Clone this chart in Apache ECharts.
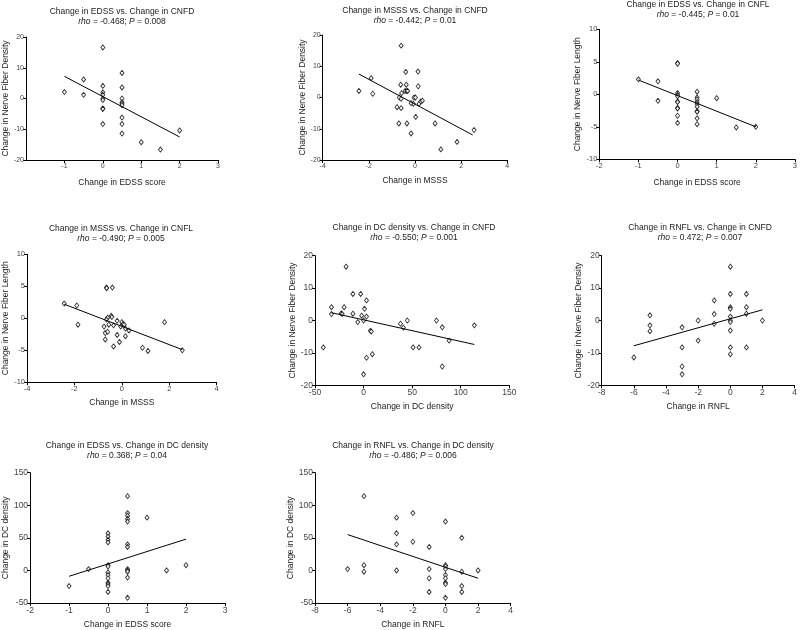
<!DOCTYPE html>
<html>
<head>
<meta charset="utf-8">
<script src="https://cdn.jsdelivr.net/npm/echarts@6/dist/echarts.min.js"></script>
<style>
html, body { margin: 0; padding: 0; background: #fff; }
#chart { width: 800px; height: 630px; }
</style>
</head>
<body>
<div id="chart"></div>
<script>
// values, one array per panel: [x, y]
var edssCnfd = [[-1,2.1],[-0.5,6.2],[-0.5,1.2],[0,16.6],[0,4.1],[0,2],[0,1.2],[0,0],[0,-0.5],[0,-3.2],[0,-3.4],[0,-8.3],[0.5,8.3],[0.5,3.6],[0.5,0],[0.5,-1.2],[0.5,-1.7],[0.5,-2.2],[0.5,-6.2],[0.5,-8.3],[0.5,-11.4],[1,-14.2],[1.5,-16.6],[2,-10.4]];
var edssCnfdFit = [[-1,7.2],[2,-12.5]];

var msssCnfd = [[-2.43,2.1],[-1.9,6.2],[-1.83,1.2],[-0.6,16.6],[-0.62,4.1],[-0.4,8.2],[-0.38,4.1],[-0.43,2.1],[-0.35,2.1],[-0.32,2.1],[-0.58,1.4],[-0.68,0],[-0.6,-0.4],[-0.78,-3.1],[-0.6,-3.4],[-0.7,-8.3],[-0.35,-8.3],[-0.17,-11.5],[-0.04,0],[0.02,0],[-0.07,-2],[-0.17,-1.8],[0.13,8.3],[0.14,3.6],[0.03,-6.2],[0.18,-2],[0.25,-1.3],[0.32,-1],[0.87,-8.3],[1.12,-16.6],[1.82,-14.2],[2.56,-10.4]];
var msssCnfdFit = [[-2.43,7.5],[2.5,-12]];

var edssCnfl = [[-1,2.3],[-0.5,2],[-0.5,-1],[0,4.8],[0,4.7],[0,0.2],[0,-0.1],[0,-0.3],[0,-1.1],[0,-1.2],[0,-2.1],[0,-2.2],[0,-3.3],[0,-4.4],[0.5,0.4],[0.5,-0.5],[0.5,-0.8],[0.5,-1.2],[0.5,-1.5],[0.5,-1.9],[0.5,-2.6],[0.5,-2.7],[0.5,-3.7],[0.5,-4.6],[1,-0.6],[1.5,-5.1],[2,-5]];
var edssCnflFit = [[-1,2.2],[2,-5]];

var msssCnfl = [[-2.43,2.3],[-1.9,2],[-1.85,-1],[-0.65,4.8],[-0.64,4.7],[-0.4,4.8],[-0.45,0.4],[-0.42,0.2],[-0.6,0.1],[-0.65,-0.2],[-0.75,-1.3],[-0.55,-1],[-0.7,-2.3],[-0.6,-2.1],[-0.7,-3.3],[-0.35,-4.4],[-0.2,-2.6],[-0.1,-3.7],[-0.2,-0.4],[-0.35,-1.1],[0,-0.6],[0.05,-0.9],[0.1,-1],[-0.05,-1.3],[0.15,-1.6],[0.15,-2.8],[0.3,-1.9],[0.87,-4.6],[1.1,-5.1],[1.8,-0.6],[2.55,-5]];
var msssCnflFit = [[-2.43,2.2],[2.55,-4.9]];

var dcCnfd = [[-41.5,-8.3],[-33,4.1],[-33,2],[-23,2.2],[-22,2],[-18,16.6],[-20,4.1],[-11,8.2],[-11,2.1],[-6,-0.5],[-3,8.2],[-2,1.5],[1,3.6],[3,6.2],[3,1.2],[0,0],[7,-3.2],[8,-3.4],[3,-11.5],[0,-16.6],[9,-10.4],[38,-1],[41,-2.2],[45,0],[51,-8.3],[57,-8.3],[75,0],[81,-2.1],[81,-14.2],[88,-6.2],[114,-1.5]];
var dcCnfdFit = [[-33,2.4],[114,-7.4]];

var rnflCnfd = [[-6,-11.4],[-5,1.6],[-5,-1.5],[-5,-3.3],[-3,-2.1],[-3,-8.3],[-3,-14.2],[-3,-16.6],[-2,0],[-2,-6.2],[-1,6.2],[-1,2],[-1,-1],[0,16.6],[0,8.2],[0,4.1],[0,3.6],[0,1.2],[0,0],[0,-0.5],[0,-3.1],[0,-8.3],[0,-10.4],[1,8.2],[1,4.1],[1,2.1],[1,-8.3],[2,0]];
var rnflCnfdFit = [[-6,-7.8],[2,3.3]];

var edssDc = [[-1,-24],[-0.5,2],[0,57],[0,52],[0,47],[0,43],[0,8],[0,6],[0,-3],[0,-7],[0,-12],[0,-19],[0,-21],[0,-24],[0,-33],[0.5,114],[0.5,88],[0.5,84],[0.5,79],[0.5,75],[0.5,40],[0.5,36],[0.5,2],[0.5,0],[0.5,-2],[0.5,-11],[0.5,-42],[1,81],[1.5,0],[2,8]];
var edssDcFit = [[-1,-9],[2,48]];

var rnflDc = [[-6,2],[-5,114],[-5,8],[-5,-2],[-3,81],[-3,57],[-3,40],[-3,0],[-2,88],[-2,44],[-1,36],[-1,2],[-1,-12],[-1,-33],[0,75],[0,8],[0,6],[0,2],[0,-7],[0,-12],[0,-19],[0,-21],[0,-42],[1,50],[1,-2],[1,-24],[1,-33],[2,0]];
var rnflDcFit = [[-6,55],[2,-12]];

var titles = [
    "Change in EDSS vs. Change in CNFD", "Change in MSSS vs. Change in CNFD", "Change in EDSS vs. Change in CNFL",
    "Change in MSSS vs. Change in CNFL", "Change in DC density vs. Change in CNFD", "Change in RNFL vs. Change in CNFD",
    "Change in EDSS vs. Change in DC density", "Change in RNFL vs. Change in DC density"
];
var stats = [
    ["-0.468", "0.008"], ["-0.442", "0.01"], ["-0.445", "0.01"], ["-0.490", "0.005"],
    ["-0.550", "0.001"], ["0.472", "0.007"], ["0.368", "0.04"], ["-0.486", "0.006"]
];
var xNames = ["Change in EDSS score", "Change in MSSS", "Change in EDSS score", "Change in MSSS",
    "Change in DC density", "Change in RNFL", "Change in EDSS score", "Change in RNFL"];
var yNames = ["Change in Nerve Fiber Density", "Change in Nerve Fiber Density", "Change in Nerve Fiber Length",
    "Change in Nerve Fiber Length", "Change in Nerve Fiber Density", "Change in Nerve Fiber Density",
    "Change in DC density", "Change in DC density"];
var xRanges = [[-2,3,1], [-4,4,2], [-2,3,1], [-4,4,2], [-50,150,50], [-8,4,2], [-2,3,1], [-8,4,2]];
var yRanges = [[-20,20,10], [-20,20,10], [-10,10,5], [-10,10,5], [-20,20,10], [-20,20,10], [-50,150,50], [-50,150,50]];
var points = [edssCnfd, msssCnfd, edssCnfl, msssCnfl, dcCnfd, rnflCnfd, edssDc, rnflDc];
var fits = [edssCnfdFit, msssCnfdFit, edssCnflFit, msssCnflFit, dcCnfdFit, rnflCnfdFit, edssDcFit, rnflDcFit];

// layout: grid box [left, top, width, height], title centre/top, name gaps, font sizes
var layout = [
    {g: [25, 37, 193, 123],     tx: 122, ty: 7,   xg: 18, yg: 15, fs: 7,   hideMin: true},
    {g: [322.7, 35, 184.6, 125], tx: 415, ty: 6,   xg: 16, yg: 16, fs: 7},
    {g: [599.3, 29.3, 195.7, 130], tx: 698, ty: 0, xg: 19, yg: 17, fs: 7.5},
    {g: [26, 254.3, 190.7, 128], tx: 121, ty: 224, xg: 16, yg: 17, fs: 7.5},
    {g: [315, 255.7, 194.3, 129.6], tx: 414, ty: 223, xg: 17, yg: 18, fs: 8.5},
    {g: [601.7, 255.7, 196, 129.6], tx: 700, ty: 223, xg: 17, yg: 17, fs: 8.5},
    {g: [29.3, 472.7, 195.7, 130.6], tx: 127, ty: 441, xg: 17, yg: 19, fs: 8.5},
    {g: [315, 472.7, 195.7, 130.6], tx: 413, ty: 441, xg: 17, yg: 19, fs: 8.5}
];

var font = "Liberation Sans, Arial, sans-serif";
var option = { backgroundColor: "#fff", animation: false, title: [], grid: [], xAxis: [], yAxis: [], series: [] };

for (var i = 0; i < 8; i++) {
    var L = layout[i];
    option.title.push({
        text: titles[i] + "\n{i|rho} = " + stats[i][0] + "; {i|P} = " + stats[i][1],
        left: L.tx, top: L.ty, textAlign: "center", padding: 0,
        textStyle: {
            fontFamily: font, fontSize: 8.5, fontWeight: "normal", color: "#222", lineHeight: 10, align: "center",
            rich: { i: { fontFamily: font, fontSize: 8.5, fontStyle: "italic", color: "#222", lineHeight: 10 } }
        }
    });
    option.grid.push({ left: L.g[0], top: L.g[1], width: L.g[2], height: L.g[3], containLabel: false });
    var axisCommon = {
        type: "value",
        gridIndex: i,
        splitLine: { show: false },
        axisLine: { onZero: false, lineStyle: { color: "#000", width: 1 } },
        axisTick: { length: 3, lineStyle: { color: "#000" } },
        nameLocation: "middle",
        nameTextStyle: { fontFamily: font, fontSize: 8.5, color: "#222" }
    };
    option.xAxis.push(Object.assign({}, axisCommon, {
        min: xRanges[i][0], max: xRanges[i][1], interval: xRanges[i][2],
        name: xNames[i], nameGap: L.xg,
        axisLabel: { fontFamily: font, fontSize: L.fs, color: "#444", margin: 3, showMinLabel: !L.hideMin }
    }));
    option.yAxis.push(Object.assign({}, axisCommon, {
        min: yRanges[i][0], max: yRanges[i][1], interval: yRanges[i][2],
        name: yNames[i], nameGap: L.yg,
        axisLabel: { fontFamily: font, fontSize: L.fs, color: "#444", margin: 2 }
    }));
    option.series.push({
        type: "scatter", xAxisIndex: i, yAxisIndex: i,
        data: points[i], symbol: "diamond", symbolSize: [4, 5],
        itemStyle: { color: "#fff", borderColor: "#000", borderWidth: 0.9 }
    });
    option.series.push({
        type: "line", xAxisIndex: i, yAxisIndex: i,
        data: fits[i], symbol: "none",
        lineStyle: { color: "#000", width: 1 }
    });
}

var chart = echarts.init(document.getElementById("chart"));
chart.setOption(option);
</script>
</body>
</html>
